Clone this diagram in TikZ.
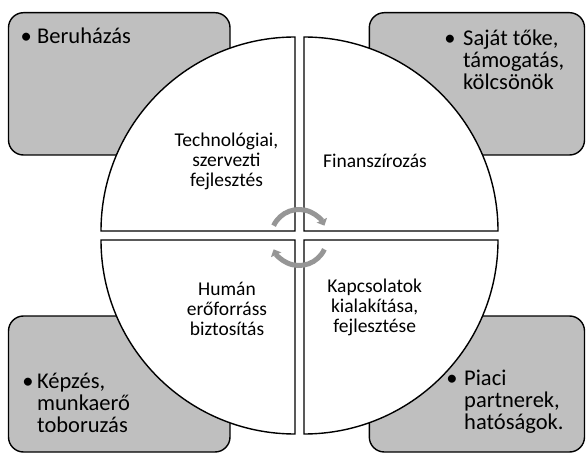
\documentclass[tikz,border=0pt]{standalone}
\usepackage{fontspec}
\setmainfont{Carlito}
\usetikzlibrary{arrows.meta}
\definecolor{boxgray}{RGB}{191,191,191}
\definecolor{arrowgray}{RGB}{150,150,150}
\begin{document}
\begin{tikzpicture}[x=1pt,y=-1pt,
  outerbox/.style={draw=black, line width=1.4pt, fill=boxgray, rounded corners=15pt},
  quarter/.style={draw=black, line width=1.4pt, fill=white},
  outertext/.style={anchor=base west, inner sep=0pt, font=\fontsize{22.5}{21.6}\selectfont},
  bulletmark/.style={anchor=base, inner sep=0pt, font=\fontsize{22.5}{21.6}\selectfont},
  innertext/.style={anchor=base, inner sep=0pt, font=\fontsize{19.5}{20}\selectfont},
  cyclearrow/.style={draw=arrowgray, line width=5pt, -{Triangle[width=11pt,length=6pt]}}
]
\useasboundingbox[fill=white] (0,0) rectangle (586,454);

% corner boxes
\draw[outerbox] (8.5,12.7) rectangle (230,155);
\draw[outerbox] (369.3,12.7) rectangle (584.5,155);
\draw[outerbox] (8.5,316) rectangle (230,452);
\draw[outerbox] (369.3,316) rectangle (584.5,452);

% quarter circles
\draw[quarter] (295,231) -- (101,231) arc[start angle=180, end angle=270, radius=194] -- cycle;
\draw[quarter] (304,231) -- (304,37) arc[start angle=270, end angle=360, radius=194] -- cycle;
\draw[quarter] (295,240) -- (101,240) arc[start angle=180, end angle=90, radius=194] -- cycle;
\draw[quarter] (304,240) -- (498,240) arc[start angle=0, end angle=90, radius=194] -- cycle;

% cycle arrows
\draw[cyclearrow] (299,237.5) ++(-155:28) arc[start angle=-155, end angle=-25, radius=28];
\draw[cyclearrow] (299,237.5) ++(25:28) arc[start angle=25, end angle=155, radius=28];

% outer texts
\node[bulletmark] (b1) at (26.3,44) {•};
\node[outertext] (t1) at (37,44) {Beruházás};
\node[bulletmark] (b2) at (450,46) {•};
\node[outertext] (t2) at (463,46) {\begin{tabular}[t]{@{}l@{}}Saját tőke,\\támogatás,\\kölcsönök\end{tabular}};
\node[bulletmark] (b3) at (28,388.3) {•};
\node[outertext] (t3) at (37,388.3) {\begin{tabular}[t]{@{}l@{}}Képzés,\\munkaerő\\toboruzás\end{tabular}};
\node[bulletmark] (b4) at (452,385) {•};
\node[outertext] (t4) at (464,385) {\begin{tabular}[t]{@{}l@{}}Piaci\\partnerek,\\hatóságok.\end{tabular}};

% inner texts
\node[innertext] (q1) at (226.5,146.7) {\begin{tabular}[t]{@{}c@{}}Technológiai,\\szervezti\\fejlesztés\end{tabular}};
\node[innertext] (q2) at (375,167.7) {Finanszírozás};
\node[innertext] (q3) at (227,295) {\begin{tabular}[t]{@{}c@{}}Humán\\erőforráss\\biztosítás\end{tabular}};
\node[innertext] (q4) at (374.7,292.7) {\begin{tabular}[t]{@{}c@{}}Kapcsolatok\\kialakítása,\\fejlesztése\end{tabular}};
\end{tikzpicture}
\end{document}
